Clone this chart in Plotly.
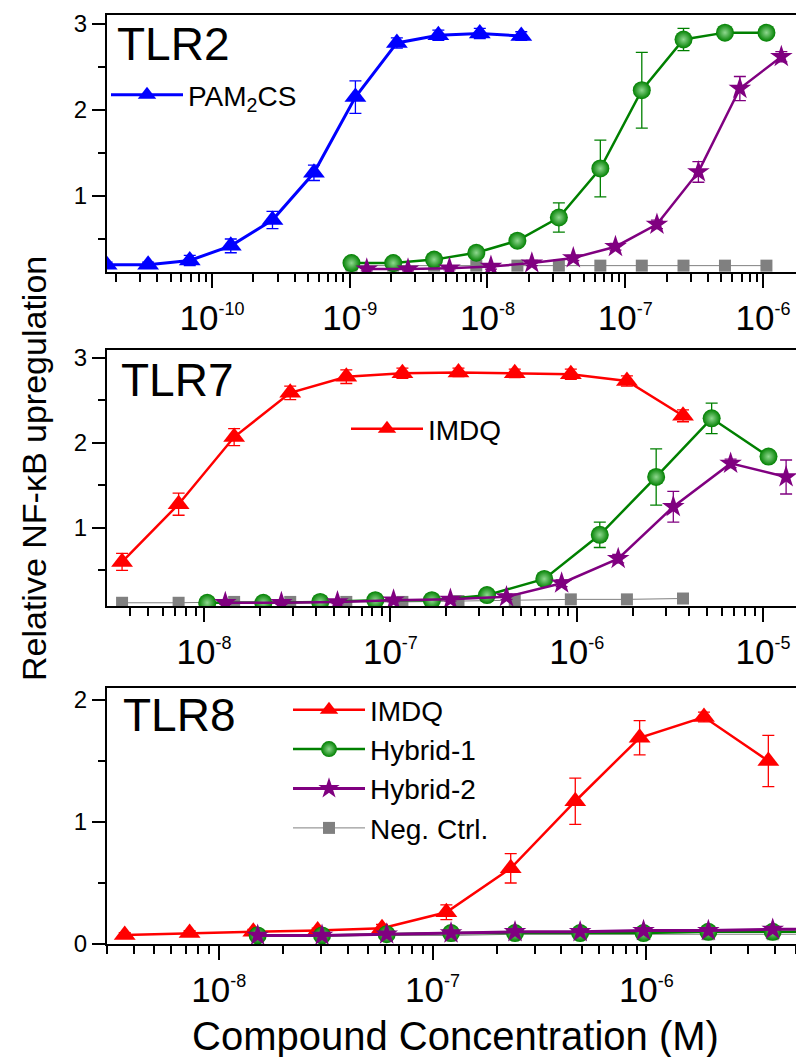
import plotly.graph_objects as go

# ---------------- data ----------------
# TLR2 panel
tlr2_pam_x = [1.72e-11, 3.44e-11, 6.9e-11, 1.37e-10, 2.75e-10, 5.5e-10, 1.1e-9, 2.2e-9, 4.4e-9, 8.8e-9, 1.76e-8]
tlr2_pam_y = [0.20, 0.20, 0.25, 0.42, 0.72, 1.27, 2.15, 2.78, 2.87, 2.89, 2.86]
tlr2_pam_e = [0.03, 0.03, 0.06, 0.08, 0.10, 0.09, 0.19, 0.06, 0.06, 0.06, 0.05]

tlr2_h1_x = [1.03e-9, 2.07e-9, 4.1e-9, 8.3e-9, 1.65e-8, 3.3e-8, 6.6e-8, 1.32e-7, 2.65e-7, 5.3e-7, 1.06e-6]
tlr2_h1_y = [0.22, 0.22, 0.26, 0.34, 0.48, 0.75, 1.32, 2.23, 2.82, 2.90, 2.90]
tlr2_h1_e = [0.03, 0.03, 0.03, 0.04, 0.04, 0.17, 0.33, 0.44, 0.13, 0.04, 0.04]

tlr2_h2_x = [1.33e-9, 2.65e-9, 5.3e-9, 1.06e-8, 2.1e-8, 4.2e-8, 8.5e-8, 1.7e-7, 3.4e-7, 6.8e-7, 1.36e-6]
tlr2_h2_y = [0.15, 0.15, 0.16, 0.18, 0.22, 0.28, 0.41, 0.67, 1.28, 2.25, 2.62]
tlr2_h2_e = [0.02, 0.02, 0.02, 0.03, 0.03, 0.03, 0.04, 0.05, 0.12, 0.14, 0.06]

tlr2_neg_x = [1.03e-9, 2.07e-9, 4.1e-9, 8.3e-9, 1.65e-8, 3.3e-8, 6.6e-8, 1.32e-7, 2.65e-7, 5.3e-7, 1.06e-6]
tlr2_neg_y = [0.19, 0.19, 0.19, 0.19, 0.19, 0.19, 0.19, 0.19, 0.19, 0.19, 0.19]

# TLR7 panel
tlr7_imdq_x = [3.63e-9, 7.3e-9, 1.45e-8, 2.9e-8, 5.8e-8, 1.16e-7, 2.32e-7, 4.65e-7, 9.3e-7, 1.86e-6, 3.72e-6]
tlr7_imdq_y = [0.60, 1.28, 2.07, 2.59, 2.78, 2.82, 2.83, 2.82, 2.81, 2.73, 2.32]
tlr7_imdq_e = [0.10, 0.13, 0.10, 0.08, 0.08, 0.06, 0.05, 0.05, 0.06, 0.06, 0.07]

tlr7_h1_x = [1.04e-8, 2.08e-8, 4.2e-8, 8.3e-8, 1.67e-7, 3.3e-7, 6.7e-7, 1.33e-6, 2.67e-6, 5.3e-6, 1.07e-5]
tlr7_h1_y = [0.12, 0.12, 0.13, 0.15, 0.15, 0.21, 0.40, 0.92, 1.60, 2.29, 1.84]
tlr7_h1_e = [0.02, 0.02, 0.02, 0.02, 0.03, 0.03, 0.04, 0.15, 0.33, 0.18, 0.05]

tlr7_h2_x = [1.3e-8, 2.6e-8, 5.2e-8, 1.04e-7, 2.1e-7, 4.2e-7, 8.3e-7, 1.67e-6, 3.3e-6, 6.7e-6, 1.33e-5]
tlr7_h2_y = [0.12, 0.12, 0.13, 0.15, 0.16, 0.19, 0.35, 0.64, 1.25, 1.76, 1.60]
tlr7_h2_e = [0.02, 0.02, 0.02, 0.02, 0.02, 0.03, 0.04, 0.05, 0.18, 0.05, 0.20]

tlr7_neg_x = [3.63e-9, 7.3e-9, 1.45e-8, 2.9e-8, 5.8e-8, 1.16e-7, 2.32e-7, 4.65e-7, 9.3e-7, 1.86e-6, 3.72e-6]
tlr7_neg_y = [0.12, 0.12, 0.13, 0.13, 0.13, 0.13, 0.14, 0.15, 0.16, 0.16, 0.17]

# TLR8 panel
tlr8_imdq_x = [3.63e-9, 7.3e-9, 1.45e-8, 2.9e-8, 5.8e-8, 1.16e-7, 2.32e-7, 4.65e-7, 9.3e-7, 1.86e-6, 3.72e-6]
tlr8_imdq_y = [0.074, 0.09, 0.10, 0.11, 0.13, 0.26, 0.62, 1.17, 1.69, 1.86, 1.50]
tlr8_imdq_e = [0.02, 0.02, 0.02, 0.02, 0.03, 0.06, 0.12, 0.19, 0.14, 0.04, 0.21]

tlr8_h_x = [1.52e-8, 3.04e-8, 6.1e-8, 1.22e-7, 2.43e-7, 4.9e-7, 9.7e-7, 1.95e-6, 3.9e-6, 7.8e-6]
tlr8_h1_y = [0.07, 0.07, 0.08, 0.09, 0.09, 0.09, 0.09, 0.10, 0.10, 0.10]
tlr8_h2_y = [0.07, 0.07, 0.08, 0.09, 0.10, 0.10, 0.11, 0.11, 0.12, 0.12]
tlr8_neg_y = [0.07, 0.07, 0.07, 0.07, 0.08, 0.08, 0.08, 0.08, 0.08, 0.08]

# axis tick labels
x_ticks_1 = [1e-10, 1e-9, 1e-8, 1e-7, 1e-6]
x_ticks_2 = [1e-8, 1e-7, 1e-6, 1e-5]
x_ticks_3 = [1e-8, 1e-7, 1e-6]
exp_1 = ["-10", "-9", "-8", "-7", "-6"]
exp_2 = ["-8", "-7", "-6", "-5"]
exp_3 = ["-8", "-7", "-6"]

# ---------------- style ----------------
FONT = "Liberation Sans, Arial, sans-serif"
W, H = 796, 1057
L = 107
BLUE, RED, GREEN, PURPLE, GREY = "#0000FF", "#FF0000", "#008000", "#800080", "#808080"

def ylo(px):
    return 1 - px / H

def xp(px):
    return (px - L) / (W - L)

doms = [(ylo(272), ylo(15)), (ylo(606), ylo(350)), (ylo(944), ylo(688))]

fig = go.Figure()

def add(x, y, e, name, color, sym, size, lw, ax, legend, show, rank, gradient=False):
    marker = dict(symbol=sym, size=size, color=color, line=dict(width=0))
    if gradient:
        marker["gradient"] = dict(type="radial", color="#8fd88f")
    tr = go.Scatter(
        x=x, y=y, name=name, mode="lines+markers",
        line=dict(color=color, width=lw),
        marker=marker,
        xaxis="x" + ("" if ax == 1 else str(ax)),
        yaxis="y" + ("" if ax == 1 else str(ax)),
        legend=legend, showlegend=show, legendrank=rank,
    )
    if e is not None:
        tr.error_y = dict(type="data", array=e, visible=True, color=color, thickness=1.3, width=6)
    fig.add_trace(tr)

# TLR2
add(tlr2_neg_x, tlr2_neg_y, None, "Neg. Ctrl.", GREY, "square", 12, 1, 1, "legend", False, 4)
add(tlr2_pam_x, tlr2_pam_y, tlr2_pam_e, "PAM<sub>2</sub>CS", BLUE, "triangle-up", 19, 3, 1, "legend", True, 1)
add(tlr2_h1_x, tlr2_h1_y, tlr2_h1_e, "Hybrid-1", GREEN, "circle", 18, 2.5, 1, "legend", False, 2, gradient=True)
add(tlr2_h2_x, tlr2_h2_y, tlr2_h2_e, "Hybrid-2", PURPLE, "star", 17, 2.5, 1, "legend", False, 3)
# TLR7
add(tlr7_neg_x, tlr7_neg_y, None, "Neg. Ctrl.", GREY, "square", 12, 1, 2, "legend2", False, 4)
add(tlr7_imdq_x, tlr7_imdq_y, tlr7_imdq_e, "IMDQ", RED, "triangle-up", 19, 2.5, 2, "legend2", True, 1)
add(tlr7_h1_x, tlr7_h1_y, tlr7_h1_e, "Hybrid-1", GREEN, "circle", 18, 2.5, 2, "legend2", False, 2, gradient=True)
add(tlr7_h2_x, tlr7_h2_y, tlr7_h2_e, "Hybrid-2", PURPLE, "star", 17, 2.5, 2, "legend2", False, 3)
# TLR8
add(tlr8_h_x, tlr8_neg_y, None, "Neg. Ctrl.", GREY, "square", 12, 1, 3, "legend3", True, 4)
add(tlr8_imdq_x, tlr8_imdq_y, tlr8_imdq_e, "IMDQ", RED, "triangle-up", 19, 2.5, 3, "legend3", True, 1)
add(tlr8_h_x, tlr8_h1_y, None, "Hybrid-1", GREEN, "circle", 18, 2.5, 3, "legend3", True, 2, gradient=True)
add(tlr8_h_x, tlr8_h2_y, None, "Hybrid-2", PURPLE, "star", 17, 3, 3, "legend3", True, 3)

def minor_vals(lo, hi):
    vals = []
    for k in range(lo, hi + 1):
        for m in range(2, 10):
            vals.append(m * 10.0 ** k)
    return vals

def xaxis(rng, tv, ex, dom_anchor, mlo, mhi):
    return dict(
        type="log", range=rng, domain=[0, 1], anchor=dom_anchor,
        showline=True, linecolor="black", linewidth=2, mirror=True,
        ticks="outside", ticklen=14, tickwidth=2, tickcolor="black",
        tickmode="array", tickvals=tv,
        ticktext=["10<sup><span style='font-size:18px'>%s</span></sup>" % s for s in ex],
        tickfont=dict(family=FONT, size=35, color="black"),
        minor=dict(tickmode="array", tickvals=minor_vals(mlo, mhi), ticks="outside",
                   ticklen=8, tickwidth=2, tickcolor="black", showgrid=False),
        showgrid=False, zeroline=False, automargin=False,
    )

def yaxis(rng, dom, anchor, tv):
    return dict(
        range=rng, domain=list(dom), anchor=anchor,
        showline=True, linecolor="black", linewidth=2, mirror=False,
        ticks="outside", ticklen=13, tickwidth=2, tickcolor="black",
        tickmode="array", tickvals=tv, ticktext=[str(v) for v in tv],
        tickfont=dict(family=FONT, size=24, color="black"),
        minor=dict(dtick=0.5, ticks="outside", ticklen=7, tickwidth=2, tickcolor="black", showgrid=False),
        showgrid=False, zeroline=False, automargin=False,
    )

legend_common = dict(font=dict(family=FONT, size=28, color="black"), bgcolor="rgba(0,0,0,0)",
                     borderwidth=0, xanchor="left", yanchor="top", itemwidth=72,
                     tracegroupgap=0, itemclick=False)

fig.update_layout(
    width=W, height=H,
    margin=dict(l=L, r=0, t=0, b=0),
    paper_bgcolor="white", plot_bgcolor="white",
    font=dict(family=FONT, color="black"),
    xaxis=xaxis([-10.762, -5.76], x_ticks_1, exp_1, "y", -11, -6),
    yaxis=yaxis([0.116, 3.105], doms[0], "x", [1, 2, 3]),
    xaxis2=xaxis([-8.521, -4.823], x_ticks_2, exp_2, "y2", -9, -5),
    yaxis2=yaxis([0.082, 3.094], doms[1], "x2", [1, 2, 3]),
    xaxis3=xaxis([-8.523, -5.30], x_ticks_3, exp_3, "y3", -9, -6),
    yaxis3=yaxis([0, 2.098], doms[2], "x3", [0, 1, 2]),
    legend=dict(legend_common, x=xp(106), y=ylo(70)),
    legend2=dict(legend_common, x=xp(346), y=ylo(404)),
    legend3=dict(legend_common, x=xp(288), y=ylo(685)),
    showlegend=True,
)

ann = [
    dict(text="TLR2", x=xp(115), y=ylo(44)),
    dict(text="TLR7", x=xp(119), y=ylo(380)),
    dict(text="TLR8", x=xp(121), y=ylo(715)),
]
for a in ann:
    fig.add_annotation(text=a["text"], x=a["x"], y=a["y"], xref="paper", yref="paper",
                       xanchor="left", yanchor="middle", showarrow=False,
                       font=dict(family=FONT, size=46, color="black"))

fig.add_annotation(text="Relative NF-\u03baB upregulation", x=xp(34), y=ylo(469),
                   xref="paper", yref="paper", textangle=-90, showarrow=False,
                   xanchor="center", yanchor="middle",
                   font=dict(family=FONT, size=34, color="black"))
fig.add_annotation(text="Compound Concentration (M)", x=xp(456), y=ylo(1036),
                   xref="paper", yref="paper", showarrow=False,
                   xanchor="center", yanchor="middle",
                   font=dict(family=FONT, size=40, color="black"))

fig.write_html("out.html")
